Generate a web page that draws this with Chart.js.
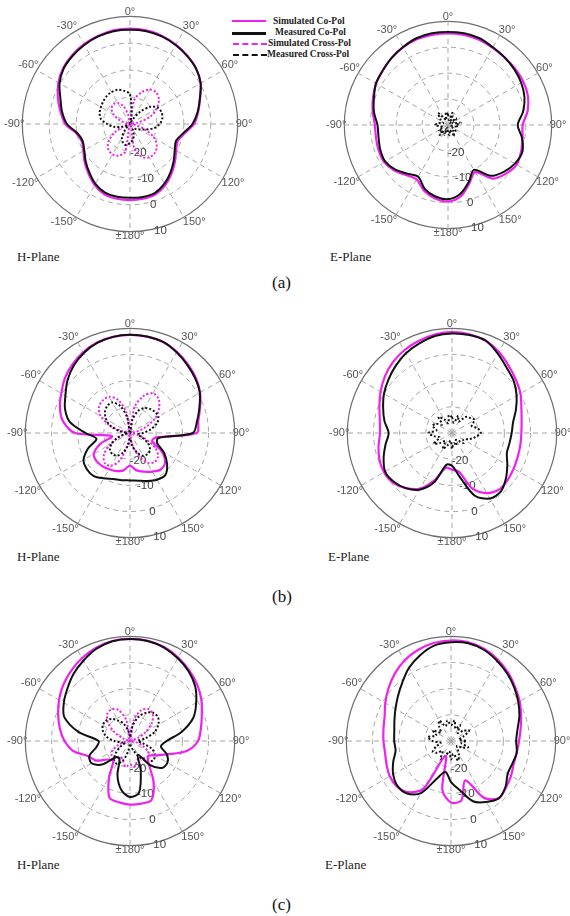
<!DOCTYPE html>
<html>
<head>
<meta charset="utf-8">
<script src="https://cdn.jsdelivr.net/npm/chart.js@4.4.1/dist/chart.umd.min.js"></script>
<style>
  body { margin: 0; background: #fff; width: 570px; height: 916px; position: relative; overflow: hidden; }
  .plane { position: absolute; font-family: "Liberation Serif", "Times New Roman", serif; font-size: 13px; color: #222; line-height: 16px; }
  .cap { position: absolute; font-family: "Liberation Serif", "Times New Roman", serif; font-size: 17px; color: #111; line-height: 20px; }
  .sw { position: absolute; width: 34px; height: 0; }
  .lt { position: absolute; font-family: "Liberation Serif", "Times New Roman", serif; font-weight: bold; font-size: 9.5px; color: #222; line-height: 11px; white-space: nowrap; }
</style>
</head>
<body>

<!-- legend -->
<div class="sw" style="left:232px;top:20px;border-top:2.5px solid #f020f0"></div>
<div class="lt" style="left:273px;top:16px">Simulated Co-Pol</div>
<div class="sw" style="left:232px;top:32px;border-top:3px solid #111"></div>
<div class="lt" style="left:275px;top:27px">Measured Co-Pol</div>
<div class="sw" style="left:233px;top:43px;border-top:2.5px dashed #f020f0"></div>
<div class="lt" style="left:268px;top:38px">Simulated Cross-Pol</div>
<div class="sw" style="left:233px;top:54px;border-top:2.5px dashed #111"></div>
<div class="lt" style="left:267px;top:49px">Measured Cross-Pol</div>

<div class="plane" style="left:17px;top:249px">H-Plane</div>
<div class="plane" style="left:330px;top:249px">E-Plane</div>
<div class="cap" style="left:272px;top:273px">(a)</div>

<div class="plane" style="left:17px;top:549px">H-Plane</div>
<div class="plane" style="left:328px;top:549px">E-Plane</div>
<div class="cap" style="left:272px;top:587px">(b)</div>

<div class="plane" style="left:17px;top:857px">H-Plane</div>
<div class="plane" style="left:325px;top:857px">E-Plane</div>
<div class="cap" style="left:272px;top:895px">(c)</div>

<script>
// angle of each sample, clockwise from broadside (190 = -170 deg, ...)
const angles = [0, 10, 20, 30, 40, 50, 60, 70, 80, 90, 100, 110, 120, 130, 140, 150, 160, 170,
                180, 190, 200, 210, 220, 230, 240, 250, 260, 270, 280, 290, 300, 310, 320, 330, 340, 350];
const ringTicks = [-20, -10, 0, 10];

// (a) H-plane, dB
const aH_simCo = [5.4, 5.3, 4.8, 4.0, 3.1, 2.1, 0.3, -2.3, -4.3, -6.2, -9.5, -11.2, -10.2, -8.2, -6.0, -3.8, -2.2, -1.8,
                  -1.7, -1.8, -2.2, -3.8, -6.0, -8.0, -10.0, -11.0, -9.8, -6.0, -3.8, -1.5, 0.7, 2.4, 3.4, 4.2, 4.8, 5.3];
const aH_meaCo = [5.0, 5.0, 4.6, 3.9, 3.0, 2.0, 0.3, -2.4, -4.5, -6.8, -10.0, -11.8, -10.8, -8.8, -6.6, -4.4, -2.8, -2.5,
                  -2.6, -2.6, -2.9, -4.3, -6.5, -8.5, -10.4, -11.3, -10.2, -6.6, -4.4, -2.5, 0.2, 2.1, 3.1, 3.9, 4.6, 5.0];
const aH_simX = [-30, -21, -17.5, -15.2, -14.8, -16, -18.5, -22, -27, -30, -28, -24, -19.5, -17, -15.8, -15.7, -17, -21,
                 -30, -19.5, -17.5, -17, -17.5, -19.5, -23, -27, -30, -30, -29, -26, -23, -21, -20.5, -21, -23, -27];
const aH_meaX = [-19, -27, -30, -28, -24, -20, -18, -17.5, -17.8, -19, -21, -24, -26, -27, -28, -28, -26, -24,
                 -23, -22, -22.5, -24, -27, -29, -29, -27, -24, -21.5, -19, -18, -17.5, -17, -16.5, -16.3, -16.5, -17.5];

// (a) E-plane
const aE_simCo = [5.3, 5.3, 5.0, 4.4, 4.0, 3.8, 3.5, 2.8, 1.2, -1.2, -0.8, 0.0, 0.6, -0.8, -3.0, -9.0, -6.0, -2.0,
                  -0.5, -1.2, -3.0, -5.8, -4.8, -2.8, -1.5, -1.5, -1.8, -1.8, -0.5, 0.8, 2.0, 2.8, 3.8, 4.6, 5.2, 5.3];
const aE_meaCo = [5.9, 5.9, 5.6, 4.6, 4.0, 3.4, 2.6, 1.4, -0.6, -3.1, -1.0, 0.5, -0.2, -1.9, -4.4, -10.0, -6.6, -3.0,
                  -1.4, -2.0, -3.8, -7.0, -5.5, -3.3, -2.0, -2.2, -2.8, -2.8, -1.0, 0.4, 2.1, 2.8, 3.8, 4.7, 5.6, 5.9];
const aE_meaX = [-26, -28, -25, -27, -29, -26, -27, -28, -25, -27, -26, -29, -28, -26, -27, -25, -28, -26,
                 -27, -29, -26, -28, -25, -27, -26, -28, -27, -25, -26, -28, -27, -26, -24, -27, -28, -25];

// (b) H-plane
const bH_simCo = [7.5, 7.4, 7.0, 5.8, 4.3, 2.8, 0.9, -1.5, -3.5, -4.5, -20, -21, -16, -12.5, -11.8, -13, -14.3, -15.5,
                  -17.5, -15.5, -14.5, -14, -13.5, -13.3, -14, -18, -23, -9, -4.0, -1.5, 0.3, 2.5, 4.2, 5.7, 6.8, 7.3];
const bH_meaCo = [7.5, 7.4, 7.0, 5.6, 4.0, 2.5, 0.8, -1.8, -4.0, -6.0, -19, -19, -15, -11.5, -9.0, -9.4, -10.5, -11.5,
                  -11.9, -11.7, -11.3, -10, -8.5, -8.5, -9.5, -13, -17, -13, -6.8, -3.6, -1.5, 1.2, 3.5, 5.3, 6.6, 7.3];
const bH_simX = [-30, -20, -15, -12.5, -13, -15.5, -19, -24, -28, -30, -28, -24, -19, -16, -15.5, -17, -21, -26,
                 -30, -26, -19, -15.5, -15, -17, -21, -26, -29, -30, -28, -22, -17, -14.5, -13.8, -14, -16.5, -22];
const bH_meaX = [-30, -25, -21, -19, -18, -17.5, -17.5, -19, -22, -25, -27, -25, -22, -20, -19.5, -20, -22, -25,
                 -28, -25, -22, -20, -19.5, -20, -22, -25, -28, -29, -26, -22, -19.5, -17.5, -16.5, -16.5, -19, -24];

// (b) E-plane
const bE_simCo = [8.5, 8.3, 7.5, 5.8, 3.6, 1.8, 0.2, -1.8, -3.0, -3.5, -3.5, -3.3, -2.8, -2.2, -1.9, -3.5, -7.5, -15,
                  -16, -16.5, -11, -5.5, -2.5, -0.5, 0.0, -0.5, -1.5, -2.5, -2.0, -0.5, 1.5, 3.5, 5.2, 6.5, 7.4, 8.2];
const bE_meaCo = [8.0, 8.0, 7.6, 5.0, 2.5, 0.8, -1.5, -4.0, -6.3, -7.2, -7.7, -7.7, -5.6, -3.1, -0.9, -1.1, -4.5, -13,
                  -17.5, -17.7, -10, -5, -2.5, -1.0, -0.5, -2.2, -4.2, -5.8, -3.8, -2.0, 0.0, 1.7, 3.5, 5.2, 6.4, 7.6];
const bE_meaX = [-24, -26, -23, -25, -22, -21, -20, -22, -20, -19, -21, -23, -25, -24, -26, -27, -25, -26,
                 -24, -27, -25, -23, -26, -24, -22, -25, -23, -21, -24, -22, -23, -25, -22, -24, -26, -23];

// (c) H-plane
const cH_simCo = [9.0, 8.9, 8.2, 6.8, 5.2, 3.5, 1.5, -0.8, -2.5, -4.0, -8, -15, -19, -21, -19, -12, -6.0, -5.7,
                  -5.7, -6.2, -7.0, -14, -20, -19, -15, -13, -8, -5, -2.8, -0.8, 1.3, 3.3, 5.0, 6.6, 7.9, 8.8];
const cH_meaCo = [9.0, 8.8, 8.0, 6.5, 4.8, 2.5, -0.8, -4.3, -10, -16, -18, -15, -13.5, -14, -18, -24, -18, -10,
                  -8.6, -11, -16, -22, -22, -16, -13, -13.5, -17, -18, -10, -3.3, -0.8, 1.2, 3.5, 5.5, 7.5, 8.7];
const cH_simX = [-30, -22, -17.5, -16, -16.5, -19, -23, -27, -30, -30, -28, -25, -22, -21, -21.5, -23, -22, -20,
                 -21, -20, -22, -23, -21.5, -21, -22, -25, -28, -30, -30, -27, -23, -19, -16.5, -16, -17.5, -22];
const cH_meaX = [-28, -24, -20, -17.5, -16, -16, -17.5, -20, -24, -27, -25, -21, -19, -18.5, -20, -23, -26, -28,
                 -29, -26, -22, -20, -20.5, -23, -26, -28, -27, -24, -21, -19, -18, -18, -19, -21, -23, -26];

// (c) E-plane
const cE_simCo = [8.4, 8.3, 7.4, 5.8, 4.0, 2.0, 0.3, -1.5, -3.0, -4.0, -4.5, -4.5, -3.5, -2.5, -1.5, -5, -14, -7,
                  -6.5, -11, -24, -9, -4.5, -3.0, -3.0, -3.8, -4.4, -4.2, -3.8, -3.0, -1.0, 1.2, 3.5, 5.5, 7.0, 8.0];
const cE_meaCo = [7.7, 7.9, 7.0, 5.3, 3.5, 1.6, -0.3, -2.2, -4.2, -5.1, -4.5, -5.0, -5.0, -2.8, -1.5, -3.1, -5.5, -11,
                  -14.3, -18, -15, -7, -3.8, -3.3, -4.5, -6.5, -8.5, -8.3, -8, -7, -5.5, -3.5, -1.0, 2.2, 4.8, 7.0];
const cE_meaX = [-24, -22, -25, -23, -26, -24, -22, -25, -27, -24, -26, -23, -25, -27, -26, -24, -22, -25,
                 -23, -26, -24, -22, -25, -23, -22, -24, -26, -23, -21, -24, -22, -25, -23, -21, -24, -22];

const MAG = '#f020f0';
const BLK = '#111111';

const angleLabels = angles.map(a => a === 180 ? '\u00b1180\u00b0' : (a > 180 ? a - 360 : a) + '\u00b0');

// dB values written along the 164 deg direction, like the original plots
const ringLabels = {
  id: 'ringLabels',
  beforeDatasetsDraw(chart) {
    const r = chart.scales.r;
    const ctx = chart.ctx;
    const a = 164 * Math.PI / 180;
    ctx.save();
    ctx.font = '11.5px "Liberation Sans", Arial, sans-serif';
    ctx.fillStyle = '#444';
    ctx.textAlign = 'center';
    ctx.textBaseline = 'middle';
    ringTicks.forEach(v => {
      const d = r.getDistanceFromCenterForValue(v) + 3;
      ctx.fillText(String(v), r.xCenter + d * Math.sin(a), r.yCenter - d * Math.cos(a));
    });
    ctx.restore();
  }
};

function polar(box, s) {
  const holder = document.createElement('div');
  holder.style.cssText = 'position:absolute;left:' + box[0] + 'px;top:' + box[1] + 'px;width:' + box[2] + 'px;height:' + box[3] + 'px;';
  const cv = document.createElement('canvas');
  holder.appendChild(cv);
  document.body.appendChild(holder);

  const sets = [];
  sets.push({ label: 'Measured Co-Pol', data: s.meaCo, borderColor: BLK, borderWidth: 2 });
  sets.push({ label: 'Simulated Co-Pol', data: s.simCo, borderColor: MAG, borderWidth: 2.2 });
  if (s.meaX) sets.push({ label: 'Measured Cross-Pol', data: s.meaX, borderColor: BLK, borderWidth: 2, borderDash: [2, 2] });
  if (s.simX) sets.push({ label: 'Simulated Cross-Pol', data: s.simX, borderColor: MAG, borderWidth: 2, borderDash: [2, 2] });

  new Chart(cv, {
    type: 'radar',
    data: { labels: angleLabels, datasets: sets },
    options: {
      responsive: true,
      maintainAspectRatio: false,
      animation: false,
      layout: { padding: 0 },
      elements: {
        line: { tension: 0.3, fill: false },
        point: { radius: 0, hoverRadius: 0 }
      },
      plugins: { legend: { display: false }, tooltip: { enabled: false } },
      scales: {
        r: {
          min: -30,
          max: 10,
          ticks: { display: false, stepSize: 10 },
          grid: {
            circular: true,
            color: c => c.tick && c.tick.value === 10 ? '#6e6e6e' : '#a5a5a5',
            lineWidth: c => c.tick && c.tick.value === 10 ? 1.2 : 1
          },
          border: { dash: c => c.tick && c.tick.value === 10 ? [] : [5, 4] },
          angleLines: {
            color: '#a5a5a5',
            lineWidth: c => c.index % 3 === 0 ? 1 : 0,
            borderDash: [5, 4]
          },
          pointLabels: {
            padding: -2,
            color: '#555',
            font: { family: '"Liberation Sans", Arial, sans-serif', size: 11 },
            callback: (label, i) => angles[i] % 30 === 0 ? label : ''
          }
        }
      }
    },
    plugins: [ringLabels]
  });
}

polar([3, 5, 252, 238],    { simCo: aH_simCo, meaCo: aH_meaCo, simX: aH_simX, meaX: aH_meaX });
polar([325, 10, 244, 230], { simCo: aE_simCo, meaCo: aE_meaCo, meaX: aE_meaX });
polar([6, 317, 246, 232],  { simCo: bH_simCo, meaCo: bH_meaCo, simX: bH_simX, meaX: bH_meaX });
polar([327, 317, 247, 233], { simCo: bE_simCo, meaCo: bE_meaCo, meaX: bE_meaX });
polar([6, 625, 246, 232],  { simCo: cH_simCo, meaCo: cH_meaCo, simX: cH_simX, meaX: cH_meaX });
polar([326, 625, 247, 233], { simCo: cE_simCo, meaCo: cE_meaCo, meaX: cE_meaX });
</script>
</body>
</html>
